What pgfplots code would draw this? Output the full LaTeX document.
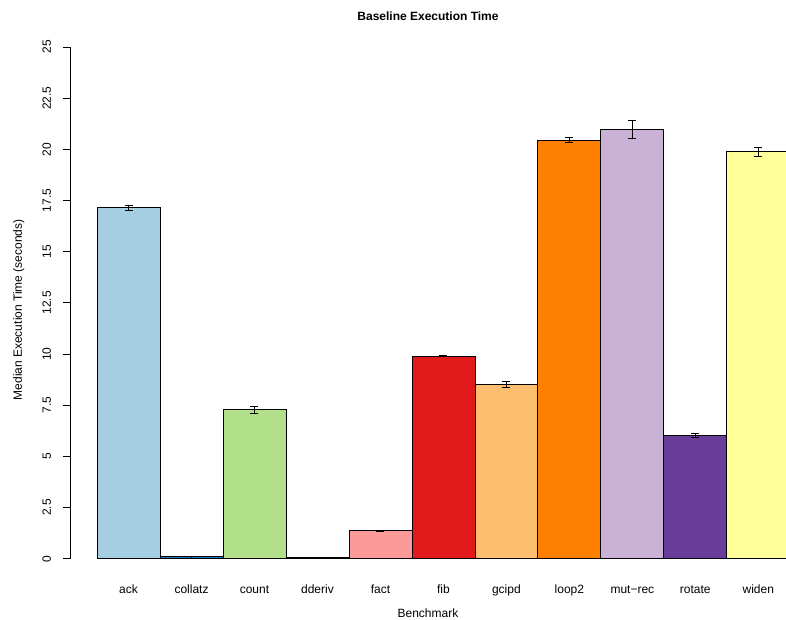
\documentclass[border=0pt]{standalone}
\usepackage{pgfplots}
\pgfplotsset{compat=1.18}
\usepackage{fontspec}
\setmainfont{Liberation Sans}
\definecolor{c1}{HTML}{A6CEE3}
\definecolor{c2}{HTML}{1F78B4}
\definecolor{c3}{HTML}{B2DF8A}
\definecolor{c4}{HTML}{33A02C}
\definecolor{c5}{HTML}{FB9A99}
\definecolor{c6}{HTML}{E31A1C}
\definecolor{c7}{HTML}{FDBF6F}
\definecolor{c8}{HTML}{FF7F00}
\definecolor{c9}{HTML}{CAB2D6}
\definecolor{c10}{HTML}{6A3D9A}
\definecolor{c11}{HTML}{FFFF99}
\begin{document}
\begin{tikzpicture}
\begin{axis}[
  name=ax,
  x=63bp, y=20.48bp,
  xmin=-0.93, xmax=10.44, ymin=0, ymax=25,
  axis lines*=left,
  x axis line style={draw=none},
  y axis line style={line width=0.8bp},
  xtick={0,...,10},
  xticklabels={ack,collatz,count,dderiv,fact,fib,gcipd,loop2,mut−rec,rotate,widen},
  xtick style={draw=none},
  xticklabel style={anchor=base, yshift=-28bp},
  ytick={0,2.5,...,25},
  yticklabel style={xshift=-12bp, rotate=90, anchor=base},
  ytick style={line width=0.8bp, black},
  tick align=outside,
  major tick length=7bp,
  tick label style={font=\fontsize{12bp}{14bp}\selectfont},
  /pgf/number format/assume math mode=true,
  ybar, bar width=1, bar shift=0pt,
  every axis plot/.append style={draw=black, line width=0.8bp,
    error bars/y dir=both, error bars/y explicit,
    error bars/error bar style={line width=0.9bp, black},
    error bars/error mark options={rotate=90, mark size=4bp, line width=0.9bp, black}},
]
\addplot[fill=c1] coordinates {(0,17.14) +- (0,0.12)};
\addplot[fill=c2] coordinates {(1,0.10) +- (0,0.01)};
\addplot[fill=c3] coordinates {(2,7.28) +- (0,0.17)};
\addplot[fill=c4] coordinates {(3,0.05) +- (0,0.01)};
\addplot[fill=c5] coordinates {(4,1.37) +- (0,0.02)};
\addplot[fill=c6] coordinates {(5,9.91) +- (0,0.03)};
\addplot[fill=c7] coordinates {(6,8.50) +- (0,0.15)};
\addplot[fill=c8] coordinates {(7,20.45) +- (0,0.12)};
\addplot[fill=c9] coordinates {(8,20.97) +- (0,0.46)};
\addplot[fill=c10] coordinates {(9,6.02) +- (0,0.11)};
\addplot[fill=c11] coordinates {(10,19.88) +- (0,0.23)};
\end{axis}
\node[anchor=base, font=\fontsize{12bp}{14bp}\selectfont\bfseries] at ([yshift=26bp]ax.north) {Baseline Execution Time};
\node[anchor=base, font=\fontsize{12bp}{14bp}\selectfont] at ([yshift=-59bp]ax.south) {Benchmark};
\node[anchor=base, rotate=90, font=\fontsize{12bp}{14bp}\selectfont] at ([xshift=-48bp,yshift=-7bp]ax.west) {Median Execution Time (seconds)};
\pgfresetboundingbox
\path[use as bounding box] ([xshift=-70bp,yshift=-61bp]ax.south west) rectangle ([yshift=47bp]ax.north east);
\end{tikzpicture}
\end{document}
